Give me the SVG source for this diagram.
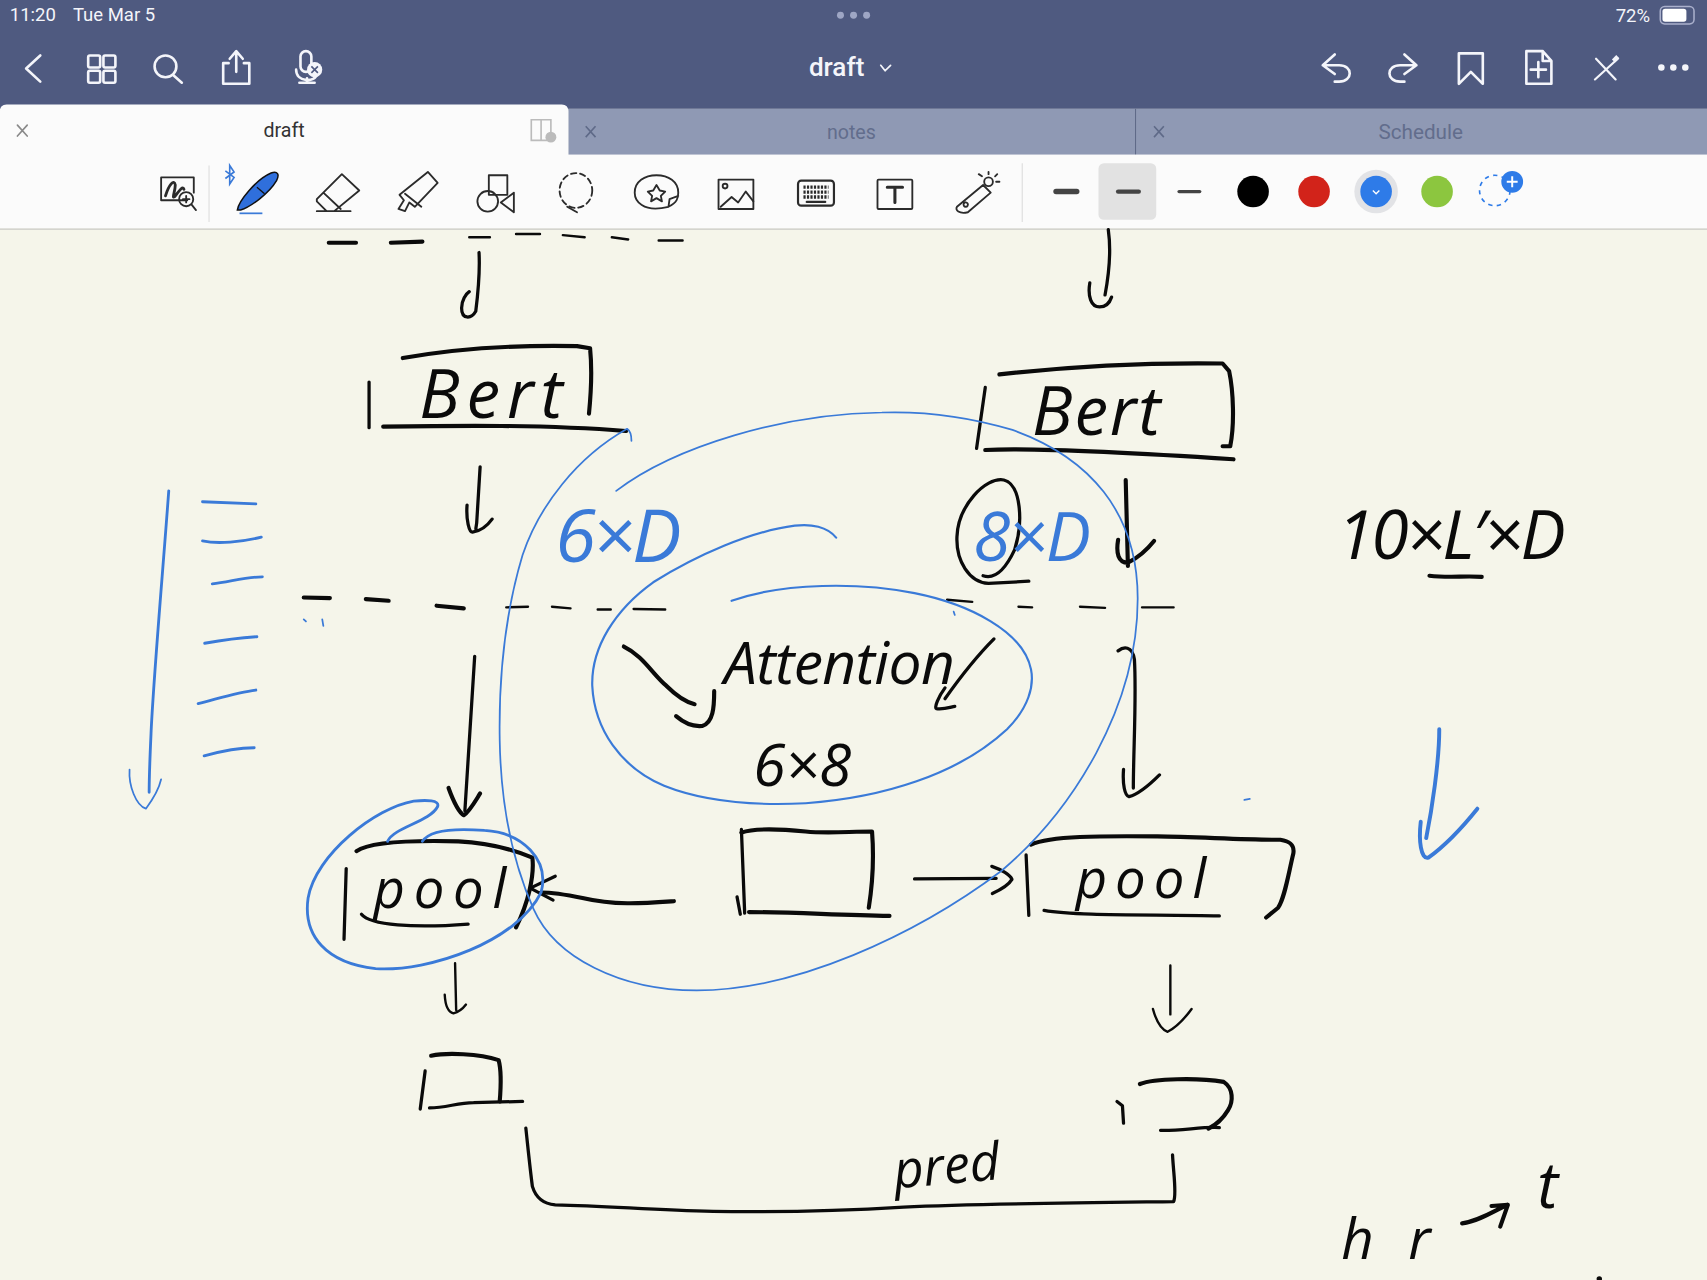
<svg xmlns="http://www.w3.org/2000/svg" width="1707" height="1280" viewBox="0 0 1707 1280">
<style>
.k,.k1,.k2,.k3,.b1,.b2,.b3,.w,.i,.g{fill:none;stroke-linecap:round;stroke-linejoin:round}
.k1{stroke:#0a0a0a;stroke-width:2.2}.k2{stroke:#0a0a0a;stroke-width:3}.k3{stroke:#0a0a0a;stroke-width:3.8}
.b1{stroke:#3a7ad8;stroke-width:1.6}.b2{stroke:#3a7ad8;stroke-width:2.6}.b3{stroke:#3a7ad8;stroke-width:3.6}
.w{stroke:#f4f5fa;stroke-width:2.4}.i{stroke:#2b2b2b;stroke-width:1.7}.g{stroke:#8a8a8a;stroke-width:1.5}
.ui{font-family:"Roboto","Liberation Sans",sans-serif}
.h{font-family:"Open Sans","Liberation Sans",sans-serif;font-style:italic;font-weight:400;fill:#0a0a0a}
.hb{font-family:"Open Sans","Liberation Sans",sans-serif;font-style:italic;font-weight:500;fill:#3a7ad8}
</style>
<g transform="scale(1.0887 1.0884)">
<rect x="0" y="0" width="1568" height="1177" fill="#f5f5ea"/>
<g id="app-header">
<rect x="0" y="0" width="1568" height="100" fill="#4f5a80"/>
<text class="ui" x="9" y="19" font-size="17" fill="#f4f5fa">11:20</text>
<text class="ui" x="67" y="19" font-size="17" fill="#f4f5fa">Tue Mar 5</text>
<g fill="#9ea6c4"><circle cx="772" cy="14" r="3.2"/><circle cx="784" cy="14" r="3.2"/><circle cx="796" cy="14" r="3.2"/></g>
<text class="ui" x="1484" y="20" font-size="17" fill="#f4f5fa">72%</text>
<rect x="1525" y="6" width="31" height="16" rx="4" fill="none" stroke="#aab0cc" stroke-width="1.4"/>
<rect x="1527" y="8" width="22" height="12" rx="2.5" fill="#fff"/>
<path class="w" d="M37 51L24 63L37 75"/>
<g class="w"><rect x="81" y="51" width="11" height="11" rx="1.5"/><rect x="95" y="51" width="11" height="11" rx="1.5"/><rect x="81" y="65" width="11" height="11" rx="1.5"/><rect x="95" y="65" width="11" height="11" rx="1.5"/><circle cx="152" cy="61" r="10"/><path d="M159 69L167 76"/><path d="M210 58H205V77H229V58H224M217 66V48M211 54L217 47L223 54"/><path d="M272 64C272 76 290 76 291 68M282 72V76M275 76H289"/><rect x="276" y="47" width="10" height="19" rx="5"/></g>
<circle cx="289" cy="64" r="7" fill="#f4f5fa"/><path d="M286 61L292 67M292 61L286 67" stroke="#4f5a80" stroke-width="1.5"/>
<text class="ui" x="743" y="70" font-size="24" font-weight="500" fill="#f4f5fa">draft</text>
<path class="w" style="stroke-width:1.6" d="M809 60L813 65L818 60"/>
<g class="w"><path d="M1226 50L1215 60L1226 68M1215 60H1230C1243 60 1243 75 1230 75H1226"/><path d="M1290 50L1301 60L1290 68M1301 60H1286C1273 60 1273 75 1286 75H1290"/><path d="M1340 49H1362V77L1351 66L1340 77Z"/><path d="M1402 47H1417L1425 56V77H1402ZM1417 47V56H1425M1413 57V71M1406 64H1420"/><path d="M1466 54L1484 73M1486 54L1465 73" style="stroke-width:2"/></g>
<path d="M1482 56L1486 52" stroke="#f4f5fa" stroke-width="4"/>
<g fill="#f4f5fa"><circle cx="1526" cy="62" r="3"/><circle cx="1537" cy="62" r="3"/><circle cx="1548" cy="62" r="3"/></g>
</g>
<g id="tab-bar">
<rect x="522" y="100" width="1046" height="43" fill="#8f99b4"/>
<path d="M1043 100V143" stroke="#5f6a88" stroke-width="1"/>
<path d="M0 143V102Q0 96 6 96H516Q522 96 522 102V143Z" fill="#fbfbfb"/>
<path class="g" d="M16 115L25 125M25 115L16 125"/>
<text class="ui" x="261" y="126" font-size="18" text-anchor="middle" fill="#333">draft</text>
<path d="M488 110H506V129H488ZM497 110V129" fill="none" stroke="#bbb" stroke-width="1.5"/><circle cx="506" cy="126" r="5" fill="#bbb"/>
<path d="M538 116L547 126M547 116L538 126" stroke="#5f6a88" stroke-width="1.5"/>
<text class="ui" x="782" y="128" font-size="18" text-anchor="middle" fill="#626d8c">notes</text>
<path d="M1060 116L1069 126M1069 116L1060 126" stroke="#5f6a88" stroke-width="1.5"/>
<text class="ui" x="1305" y="128" font-size="19" text-anchor="middle" fill="#626d8c">Schedule</text>
</g>
<g id="toolbar">
<rect x="0" y="142" width="1568" height="68" fill="#fbfbfb"/>
<path d="M0 210.500H1568" stroke="#c9c9c4" stroke-width="1.3"/>
<path d="M192 152V204M939 150V204" stroke="#e2e2e2" stroke-width="1.2"/>
<g class="i">
<path d="M172 184H148V163H178V177"/><path d="M152 180C155 170 160 164 161 170C161 176 157 184 161 180C164 176 168 170 169 174" stroke-width="2.6"/><circle cx="171" cy="183" r="6.500"/><path d="M176 188L180 193M171 180V186M168 183H174"/>
<path d="M291 194H322M291 183L314 160L330 175L307 194H300L291 185ZM297 177L313 192"/>
<path d="M366 192L371 184L367 179L393 158L402 168L381 190L376 186L372 194ZM372 178L387 190"/>
<rect x="449" y="161" width="17" height="18"/><circle cx="448" cy="185" r="9.500"/><path d="M472 177V195L460 186Z"/>
<ellipse cx="529" cy="175" rx="15" ry="16" stroke-dasharray="5 3.500"/><path d="M521 190L530 195"/>
<path d="M614 190C590 196 583 184 583 177C583 167 592 161 603 161C614 161 623 167 623 177C623 182 622 186 614 190ZM614 190L615 183L623 180"/><path d="M603 170L606 175L611 176L607 180L608 185L603 182L598 185L599 180L595 176L600 175Z"/>
<rect x="660" y="165" width="32" height="27"/><circle cx="666" cy="171" r="2.200"/><path d="M662 190L672 181L678 186L685 176L692 185"/>
<rect x="733" y="166" width="33" height="23" rx="3" stroke-width="2"/>
<path d="M738 172H761M738 176.500H761M738 181H761" stroke-width="3" stroke-dasharray="2 1.200" stroke-linecap="butt"/><path d="M741 185.500H758" stroke-width="2"/>
<rect x="806" y="165" width="32" height="27" rx="1"/><path d="M815 172H829M822 172V186" stroke-width="2.800"/>
<path d="M879 190L903 170L910 177L889 195C881 197 877 193 879 190ZM887 186a2 2 0 1 0 0.100 0"/><circle cx="908" cy="167" r="4"/><path d="M908 158V160M916 160L914 162M918 167H915M899 160L902 162"/>
</g>
<path d="M218 193C219 185 235 165 249 159C255 157 257 160 254 166C247 178 230 190 221 193Z" fill="#2f6fdc" stroke="#111" stroke-width="1.400"/>
<path d="M236 172L243 178" stroke="#111" stroke-width="1.200"/>
<path d="M220 196H241" stroke="#3a7ad8" stroke-width="1.600"/>
<path d="M207 157L215 163L211 169V152L215 158L207 164" fill="none" stroke="#3a7ad8" stroke-width="1.500"/>
<rect x="1009" y="150" width="53" height="52" rx="5" fill="#e2e2e2"/>
<path d="M970 176H989" stroke="#444" stroke-width="5" stroke-linecap="round"/>
<path d="M1027 176H1046" stroke="#444" stroke-width="4" stroke-linecap="round"/>
<path d="M1083 176H1102" stroke="#444" stroke-width="3" stroke-linecap="round"/>
<circle cx="1151" cy="176" r="14.500" fill="#000"/>
<circle cx="1207" cy="176" r="14.500" fill="#d2231a"/>
<circle cx="1264" cy="176" r="20" fill="#e2e3e6"/>
<circle cx="1264" cy="176" r="14.500" fill="#2e7be8"/>
<path d="M1261 175L1264 178L1267 175" fill="none" stroke="#fff" stroke-width="1.200"/>
<circle cx="1320" cy="176" r="14.500" fill="#8cc63f"/>
<circle cx="1373" cy="175" r="14" fill="none" stroke="#2e7be8" stroke-width="1.500" stroke-dasharray="4 4"/>
<circle cx="1389" cy="167" r="10" fill="#2e7be8"/>
<path d="M1389 162V172M1384 167H1394" stroke="#fff" stroke-width="1.800"/>
</g>
<g id="connectors">
<path class="k3" d="M302 223H327M359 223L388 222"/>
<path class="k1" d="M431 218H450M474 215L496 215M517 216L537 218M562 218L577 220M605 221H627"/>
<path class="k3" d="M279 549L303 549.500M336 550.500L357 552M401 556.500L426 559"/>
<path class="k1" d="M465 558L485 557.500M507 557.500L524 559M549 560H561M582 559.500L611 560M870 551L893 553M935.500 557.500L948 558M992 557.500L1015 558.500M1049 558H1078"/>
<path class="k2" d="M440 232C441 250 439 270 437 286C433 293 424 294 424 283C424 276 428 270 431 268"/>
<path class="k2" d="M441 429L438 478C438 483 436 487 438 487M429 464C428 478 431 489 434 489C441 488 447 484 452 477"/>
<path class="k2" d="M1018 211C1021 232 1018 255 1015 271M1001 260C999 272 1002 282 1010 282C1016 282 1019 279 1021 273"/>
<path class="k3" d="M1034 441L1036 520M1027 496C1025 508 1027 517 1036 517C1044 513 1052 507 1060 497"/>
<path class="k2" d="M1027 598C1032 594 1040 593 1042 606C1044 640 1041 690 1041 724M1032 707C1031 720 1033 731 1037 732C1045 730 1055 722 1065 712"/>
<path class="k3" d="M573 594C590 602 600 620 612 630C622 640 630 645 638 647"/>
<path class="k3" d="M656 635C656 650 655 664 645 667C635 668 628 664 621 658"/>
<path class="k2" d="M913 587C895 605 880 625 868 642M868 632C862 640 858 650 860 651C866 652 872 650 877 649"/>
<path class="k2" d="M436 603L427 745"/>
<path class="k3" d="M412 724C416 735 421 746 426 749C431 746 436 737 441 729"/>
<path class="k3" d="M619 828C590 830 565 832 535 825C520 822 510 820 497 820"/>
<path class="k2" d="M510 805L487 816L508 827"/>
<path class="k2" d="M840 807.500L915 807M911 796C920 799 928 804 929.500 808C926 814 918 818 911.500 821"/>
<path class="k1" d="M418 885L419 928M408.500 914C409 924 412 930 416.500 931C421 930 425 927 428 923"/>
<path class="k1" d="M1075 887V932M1059 927C1062 938 1067 946 1072.500 948C1080 944 1088 936 1094.500 927"/>
<path class="k2" d="M483 1036.500C485 1055 487 1075 489 1090C492 1100 498 1106 510 1107C560 1108 600 1112 655 1113C720 1114 780 1112 830 1109C900 1106 1000 1105 1078 1104C1081 1098 1078 1080 1077 1061"/>
</g>
<g id="note-left-arrow">
<path class="b2" d="M155 451C150 520 142 610 139 668C138 690 137 710 137 728"/>
<path class="b1" d="M119 707C118 722 125 740 134 743C140 735 146 725 148 716"/>
<path class="b2" d="M186 461L235 463M186 497C200 500 222 498 240 493.500M195 536.500C210 535 225 530 241 530M188 591C205 588 220 586 236 585M182 646.500C200 642 218 636 235 634M187.500 694.500C200 691 218 687 233.500 687"/>
<path class="b1" d="M279 569L281 571M296 569L297 575M876 562L877 565M1143 735L1148 734"/>
</g>
<g id="note-right-arrow">
<path class="b3" d="M1322 670C1322 700 1315 745 1310 770"/>
<path class="b3" d="M1305 755C1303 772 1305 790 1312 788C1330 775 1345 758 1357 743"/>
</g>
<g id="node-bert-left">
<path class="k3" d="M370 329C420 320 480 317 530 318L542 320C544 340 543 360 541 380"/>
<path class="k2" d="M339 351L339 393"/>
<path class="k3" d="M352 392C420 391 500 390 575 396"/>
<text class="h" x="385" y="384" font-size="62" textLength="132" lengthAdjust="spacing">Bert</text>
</g>
<g id="node-bert-right">
<path class="k3" d="M918 344C980 337 1050 333 1123 334L1129 341C1133 360 1134 390 1130 410L1123 410"/>
<path class="k2" d="M905 356L897 412"/>
<path class="k3" d="M905 413.500C950 411 1040 416 1133 422"/>
<text class="h" x="948" y="400" font-size="62" textLength="118" lengthAdjust="spacing">Bert</text>
</g>
<g id="label-6xD"><text class="hb" x="510" y="516" font-size="68" textLength="116" lengthAdjust="spacing">6×D</text></g>
<g id="label-8xD">
<path class="k2" d="M903 529C915 533 925 520 932 505C940 480 938 445 922 441C905 438 880 465 879 493C878 515 890 535 908 536L945 534"/>
<text class="hb" style="font-weight:400" x="894" y="515" font-size="62" textLength="108" lengthAdjust="spacing">8×D</text>
</g>
<g id="label-10xLxD">
<text class="h" x="1228" y="514" font-size="62" textLength="210" lengthAdjust="spacing">10×L′×D</text>
<path class="k3" d="M1313 529C1330 531 1345 529 1361 530"/>
</g>
<g id="node-attention">
<path class="b1" style="stroke-width:2" d="M768 494C760 484 745 481 730 483C690 488 640 510 600 535C565 560 543 595 544 630C546 670 570 705 610 722C650 738 700 740 740 738C810 733 880 712 925 670C945 650 950 630 947 615C940 580 890 555 840 545C790 535 720 535 672 552"/>
<text class="h" x="665" y="628" font-size="54" textLength="212" lengthAdjust="spacing">Attention</text>
<text class="h" x="692" y="722" font-size="54" textLength="90" lengthAdjust="spacing">6×8</text>
</g>
<g id="node-pool-left">
<path class="k3" d="M327.500 782C340 773 380 772 421 773C445 774 465 778 489 788C491 805 485 830 474 852"/>
<path class="k2" d="M318 798L316 863"/>
<path class="k2" d="M332 840C340 850 380 853 430 849"/>
<text class="h" x="343" y="834" font-size="50" textLength="122" lengthAdjust="spacing">pool</text>
<path class="b2" d="M356 773C362 760 395 755 402 741C404 735 392 735 380 736C345 742 290 785 283 825C278 860 300 885 345 890C395 893 475 865 497 820C505 790 480 765 445 763C420 761 395 762 388 773"/>
</g>
<g id="node-blank-middle">
<path class="k3" d="M681 765C695 760 720 762 740 764C760 766 780 764 801 764C803 790 801 815 798 834"/>
<path class="k2" d="M681 762L684 839M677 824L680 840"/>
<path class="k3" d="M688 838C730 838 770 841 817 841.500"/>
</g>
<g id="node-pool-right">
<path class="k3" d="M947 776C965 768 1010 768 1063 768.500C1100 769 1150 772 1176 771.500C1186 773 1189 777 1188 784C1183 805 1180 825 1174 834L1163 843"/>
<path class="k2" d="M942.500 785.500L945 841"/>
<path class="k2" d="M959 836.500C990 842 1060 840 1120 841.500"/>
<text class="h" x="988" y="825" font-size="50" textLength="120" lengthAdjust="spacing">pool</text>
</g>
<g id="node-small-left">
<path class="k3" d="M396 970C410 967 440 968 458 974C461 985 460 1000 459 1012"/>
<path class="k2" d="M390.500 984L386 1019"/>
<path class="k2" d="M394.500 1018C410 1018 420 1013 435 1013L480 1012"/>
</g>
<g id="node-small-right">
<path class="k2" d="M1026 1012L1031 1016L1032 1032"/>
<path class="k3" d="M1047 996C1060 991 1100 990 1124 994C1133 1000 1133 1012 1128 1020C1122 1030 1116 1034 1110 1037"/>
<path class="k2" d="M1066 1038.500C1085 1039 1105 1035 1120 1036"/>
</g>
<g id="label-pred"><text class="h" x="822" y="1092" font-size="48" textLength="98" lengthAdjust="spacing" transform="rotate(-5 822 1092)">pred</text></g>
<g id="label-hr-t">
<text class="h" x="1232" y="1157" font-size="52" textLength="82" lengthAdjust="spacing">hr</text>
<path class="k3" d="M1343 1124C1358 1122 1372 1113 1384.500 1107M1370 1108L1385 1107L1378 1127"/>
<text class="h" x="1412" y="1110" font-size="58">t</text>
<circle cx="1469" cy="1175" r="2.500" fill="#0a0a0a"/>
</g>
<g id="spiral">
<path class="b1" d="M580 405C580 400 579 396 576 394C530 420 495 465 480 510C465 560 458 620 459 680C460 740 470 790 490 835C510 880 570 910 640 910C730 910 840 860 920 800C985 745 1045 650 1045 550C1045 470 1000 420 930 395C880 380 840 378 810 379C720 380 620 410 566 451"/>
</g>
</g>
</svg>
